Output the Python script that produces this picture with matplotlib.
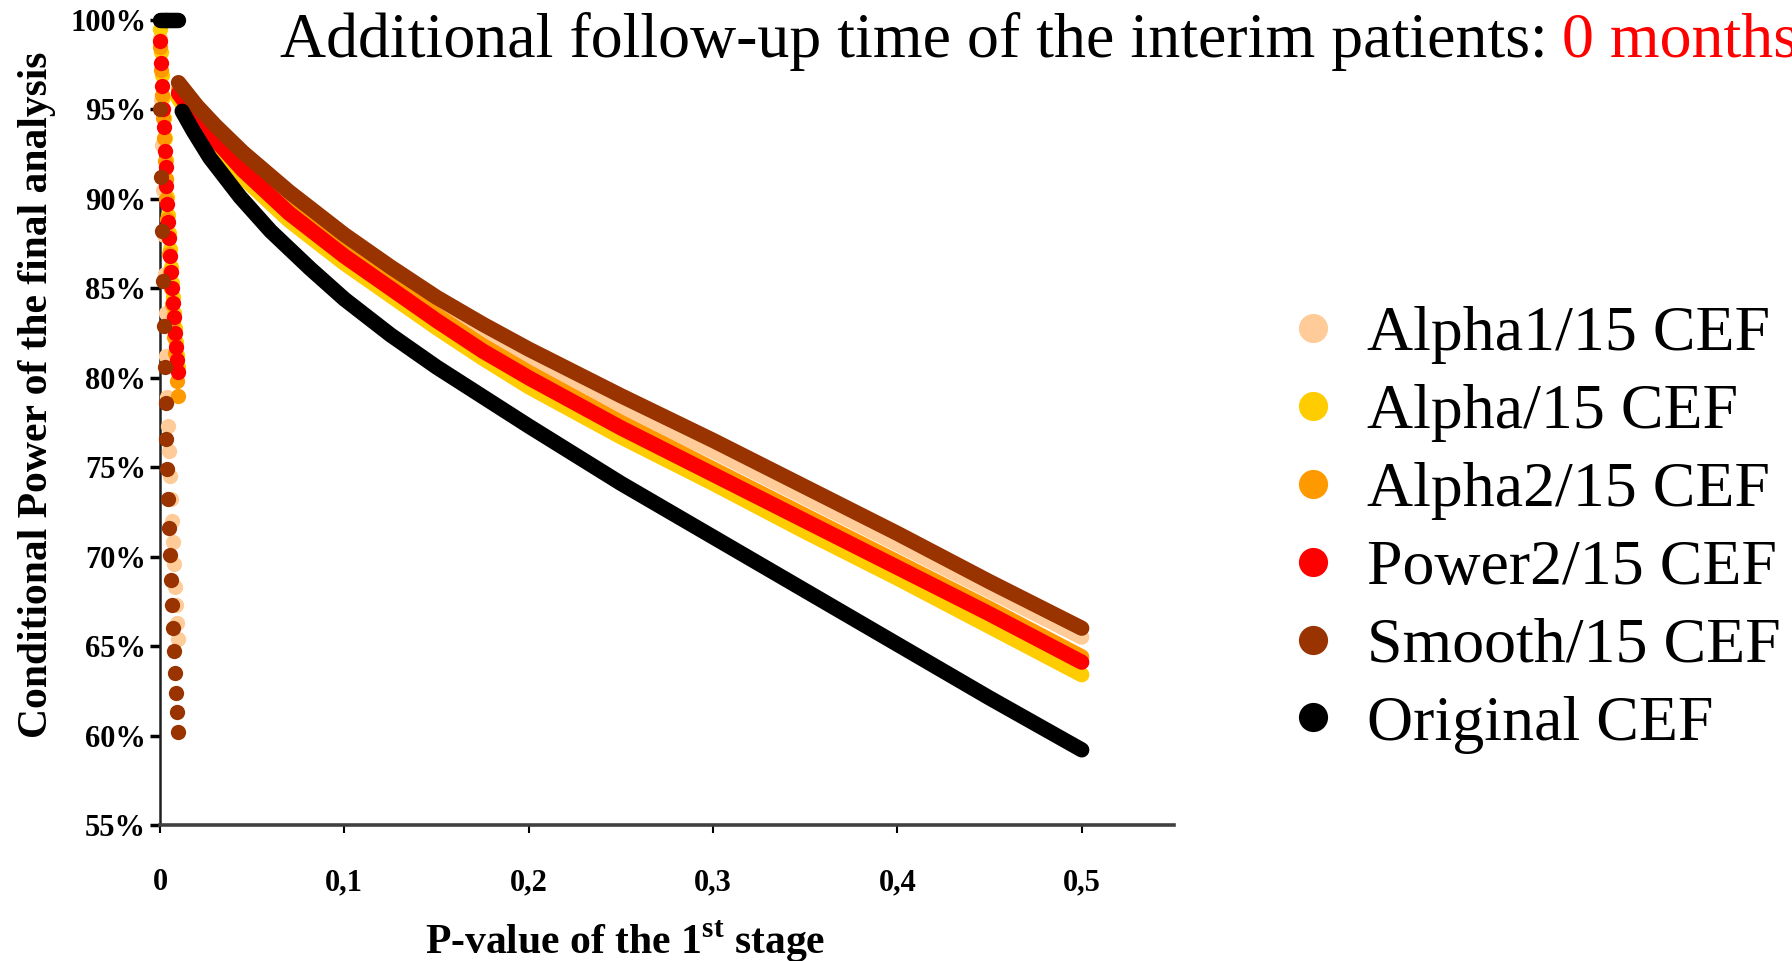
import numpy as np
import matplotlib.pyplot as plt
from matplotlib.lines import Line2D

plt.rcParams['font.family'] = 'Liberation Serif'
plt.rcParams['mathtext.fontset'] = 'custom'
plt.rcParams['mathtext.rm'] = 'Liberation Serif:bold'
plt.rcParams['mathtext.bf'] = 'Liberation Serif:bold'

# p-values of the first stage (fine grid near zero, then the main curve)
spike_p = [0.0, 0.0005, 0.001, 0.0015, 0.002, 0.0025, 0.003, 0.0035, 0.004, 0.0045,
           0.005, 0.0055, 0.006, 0.0065, 0.007, 0.0075, 0.008, 0.0085, 0.009, 0.0095]
curve_p = [0.01, 0.02, 0.03, 0.045, 0.07, 0.1, 0.125, 0.15, 0.175, 0.2,
           0.25, 0.3, 0.35, 0.4, 0.45, 0.5]
black_p = [0.012, 0.018, 0.027, 0.0435, 0.06, 0.0815, 0.1, 0.125, 0.15, 0.2,
           0.25, 0.3, 0.35, 0.4, 0.45, 0.5]

# conditional power, spike part
alpha1_spike = [0.990, 0.955, 0.930, 0.905, 0.880, 0.858, 0.836, 0.812, 0.789, 0.773,
                0.759, 0.745, 0.732, 0.720, 0.708, 0.696, 0.683, 0.673, 0.663, 0.654]
alpha_spike = [0.995, 0.982, 0.969, 0.957, 0.945, 0.934, 0.922, 0.911, 0.901, 0.891,
               0.881, 0.872, 0.862, 0.853, 0.845, 0.836, 0.828, 0.820, 0.813, 0.806]
alpha2_spike = [0.985, 0.972, 0.958, 0.945, 0.934, 0.921, 0.911, 0.900, 0.889, 0.879,
                0.869, 0.859, 0.850, 0.841, 0.832, 0.823, 0.814, 0.806, 0.798, 0.790]
power2_spike = [0.988, 0.976, 0.963, 0.950, 0.940, 0.927, 0.918, 0.907, 0.897, 0.887,
                0.878, 0.868, 0.859, 0.850, 0.842, 0.834, 0.825, 0.817, 0.810, 0.803]
smooth_spike = [0.950, 0.912, 0.882, 0.854, 0.829, 0.806, 0.786, 0.766, 0.749, 0.732,
                0.716, 0.701, 0.687, 0.673, 0.660, 0.647, 0.635, 0.624, 0.613, 0.602]
original_spike = [1.0, 1.0, 1.0, 1.0, 1.0, 1.0, 1.0, 1.0, 1.0, 1.0,
                  1.0, 1.0, 1.0, 1.0, 1.0, 1.0, 1.0, 1.0, 1.0, 1.0]

# conditional power, main curve
alpha1_curve = [0.960, 0.947, 0.936, 0.920, 0.898, 0.875, 0.857, 0.839, 0.823, 0.809,
                0.783, 0.759, 0.733, 0.707, 0.681, 0.655]
alpha_curve = [0.956, 0.942, 0.930, 0.912, 0.888, 0.864, 0.846, 0.828, 0.811, 0.795,
               0.767, 0.741, 0.714, 0.688, 0.661, 0.634]
alpha2_curve = [0.961, 0.947, 0.935, 0.918, 0.895, 0.871, 0.853, 0.835, 0.818, 0.803,
                0.775, 0.749, 0.723, 0.697, 0.671, 0.644]
power2_curve = [0.959, 0.945, 0.933, 0.916, 0.892, 0.868, 0.850, 0.832, 0.815, 0.800,
                0.772, 0.746, 0.720, 0.694, 0.668, 0.641]
smooth_curve = [0.965, 0.952, 0.941, 0.926, 0.904, 0.880, 0.862, 0.845, 0.830, 0.816,
                0.790, 0.765, 0.739, 0.713, 0.686, 0.660]
original_curve = [0.949, 0.938, 0.923, 0.901, 0.882, 0.861, 0.844, 0.824, 0.806, 0.773,
                  0.741, 0.711, 0.681, 0.651, 0.621, 0.592]

labels = ['Alpha1/15 CEF', 'Alpha/15 CEF', 'Alpha2/15 CEF', 'Power2/15 CEF', 'Smooth/15 CEF', 'Original CEF']
colors = ['#FFCC99', '#FFCC00', '#FF9900', '#FF0000', '#993300', '#000000']

spikes = [alpha1_spike, alpha_spike, alpha2_spike, power2_spike, smooth_spike, original_spike]
curves = [(curve_p, alpha1_curve), (curve_p, alpha_curve), (curve_p, alpha2_curve),
          (curve_p, power2_curve), (curve_p, smooth_curve), (black_p, original_curve)]

fig = plt.figure(figsize=(17.92, 9.61), dpi=100)
ax = fig.add_axes([0.0893, 0.1415, 0.5658, 0.8377])

for sp, (cx, cy), c in zip(spikes, curves, colors):
    ax.plot(spike_p, sp, 'o', color=c, markersize=11, markeredgewidth=0, clip_on=False, zorder=3)
    ax.plot(cx, cy, '-', color=c, lw=11, solid_capstyle='round', solid_joinstyle='round',
            clip_on=False, zorder=3)

ax.set_xlim(0, 0.55)
ax.set_ylim(0.55, 1.0)
ax.set_xticks([0, 0.1, 0.2, 0.3, 0.4, 0.5])
ax.set_xticklabels(['0', '0,1', '0,2', '0,3', '0,4', '0,5'])
yt = [0.55, 0.6, 0.65, 0.7, 0.75, 0.8, 0.85, 0.9, 0.95, 1.0]
ax.set_yticks(yt)
ax.set_yticklabels(['%d%%' % round(v * 100) for v in yt])
for lab in ax.get_xticklabels() + ax.get_yticklabels():
    lab.set_fontweight('bold')
    lab.set_fontsize(22)
ax.tick_params(axis='y', direction='out', length=7, width=2.5, pad=3)
ax.tick_params(axis='x', direction='out', length=6, width=1.5, pad=25)

ax.spines['top'].set_visible(False)
ax.spines['right'].set_visible(False)
ax.spines['left'].set_linewidth(1.8)
ax.spines['left'].set_color('#202020')
ax.spines['bottom'].set_linewidth(2.6)
ax.spines['bottom'].set_color('#404040')

ax.set_xlabel(r'P-value of the 1$^{\mathrm{st}}$ stage', fontsize=30, fontweight='bold')
ax.xaxis.set_label_coords(0.459, -0.116)
ax.set_ylabel('Conditional Power of the final analysis', fontsize=30, fontweight='bold')
ax.yaxis.set_label_coords(-0.103, 0.535)

t = fig.text(0.156, 0.941, 'Additional follow-up time of the interim patients:', fontsize=46,
             va='baseline', ha='left')
ax.annotate('0 months', xy=(1, 0), xycoords=t, xytext=(11, 0), textcoords='offset points',
            fontsize=46, color='red', va='bottom', ha='left', annotation_clip=False)

handles = [Line2D([], [], marker='o', linestyle='none', color=c, markersize=21, markeredgewidth=0)
           for c in colors]
fig.legend(handles, labels, loc='upper left', bbox_to_anchor=(0.715, 0.682), frameon=False,
           fontsize=46, handlelength=1.0, handletextpad=0.34, labelspacing=0.30,
           borderpad=0, borderaxespad=0)

fig.savefig('out.png', dpi=100)
